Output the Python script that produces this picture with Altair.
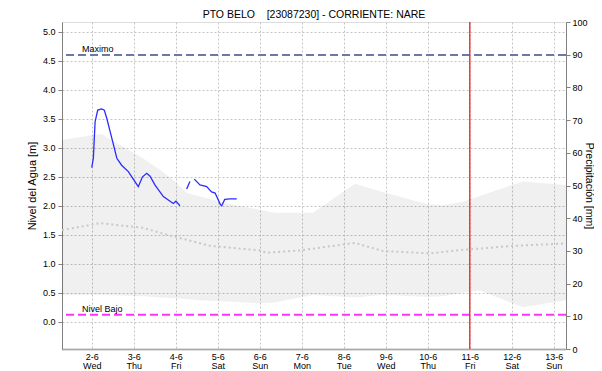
import json
import altair as alt
import pandas as pd

TITLE = ["PTO BELO\u00a0\u00a0\u00a0\u00a0[23087230] - CORRIENTE: NARE"]

# observed water level (m), three separate segments
obs1_time = ["2021-06-02T00:00", "2021-06-02T00:55", "2021-06-02T01:55", "2021-06-02T03:25",
             "2021-06-02T05:40", "2021-06-02T07:10", "2021-06-02T08:35", "2021-06-02T11:25",
             "2021-06-02T14:20", "2021-06-02T17:05", "2021-06-02T20:55", "2021-06-03T02:35",
             "2021-06-03T05:00", "2021-06-03T07:25", "2021-06-03T09:20", "2021-06-03T12:05",
             "2021-06-03T16:55", "2021-06-03T22:35", "2021-06-04T00:05", "2021-06-04T02:25"]
obs1_level = [2.66, 2.82, 3.45, 3.65, 3.67, 3.65, 3.51, 3.17, 2.82, 2.70, 2.59, 2.33,
              2.50, 2.56, 2.51, 2.36, 2.16, 2.04, 2.08, 2.00]
obs2_time = ["2021-06-04T06:15", "2021-06-04T08:05"]
obs2_level = [2.29, 2.42]
obs3_time = ["2021-06-04T10:35", "2021-06-04T13:50", "2021-06-04T17:40", "2021-06-04T20:30",
             "2021-06-04T22:30", "2021-06-05T01:30", "2021-06-05T02:15", "2021-06-05T04:00",
             "2021-06-05T07:00", "2021-06-05T10:50"]
obs3_level = [2.46, 2.36, 2.33, 2.24, 2.22, 2.02, 2.00, 2.11, 2.12, 2.12]

# historical band (m)
band_time = ["2021-06-01T07:00", "2021-06-02T05:40", "2021-06-03T05:15", "2021-06-03T15:00",
             "2021-06-03T22:25", "2021-06-04T06:25", "2021-06-04T13:50", "2021-06-05T05:15",
             "2021-06-06T00:05", "2021-06-06T08:40", "2021-06-07T06:20", "2021-06-08T06:20",
             "2021-06-08T22:20", "2021-06-09T23:30", "2021-06-10T08:35", "2021-06-10T20:00",
             "2021-06-11T05:45", "2021-06-12T06:15", "2021-06-13T07:00"]
band_high = [3.14, 3.24, 2.82, 2.62, 2.45, 2.22, 2.16, 2.04, 1.93, 1.88, 1.88, 2.38,
             2.24, 2.03, 2.01, 2.07, 2.17, 2.42, 2.36]
band_low = [0.46, 0.46, 0.44, 0.42, 0.41, 0.39, 0.37, 0.35, 0.32, 0.33, 0.46, 0.42,
            0.46, 0.43, 0.44, 0.50, 0.54, 0.25, 0.37]

# historical mean level (m)
mean_time = ["2021-06-01T07:00", "2021-06-02T04:45", "2021-06-03T05:15", "2021-06-03T19:00",
             "2021-06-04T19:35", "2021-06-06T00:05", "2021-06-06T04:05", "2021-06-06T22:55",
             "2021-06-08T06:20", "2021-06-08T22:20", "2021-06-10T01:10", "2021-06-10T20:00",
             "2021-06-12T01:45", "2021-06-13T07:00"]
mean_level = [1.58, 1.70, 1.62, 1.50, 1.31, 1.23, 1.19, 1.23, 1.36, 1.22, 1.18, 1.24, 1.31, 1.35]

threshold_names = ["Maximo", "Nivel Bajo"]
threshold_levels = [4.6, 0.12]
threshold_colors = ["#6b7aa5", "#ff33ff"]

now_time = ["2021-06-11T00:00"]

day_ticks = ["2021-06-%02dT00:00" % d for d in range(2, 14)]
day_labels = ["2-6", "3-6", "4-6", "5-6", "6-6", "7-6", "8-6", "9-6", "10-6", "11-6", "12-6", "13-6"]
weekday_labels = ["Wed", "Thu", "Fri", "Sat", "Sun", "Mon", "Tue", "Wed", "Thu", "Fri", "Sat", "Sun"]

level_ticks = [0.0, 0.5, 1.0, 1.5, 2.0, 2.5, 3.0, 3.5, 4.0, 4.5, 5.0]
precip_ticks = [0, 10, 20, 30, 40, 50, 60, 70, 80, 90, 100]
x_domain = ["2021-06-01T07:00", "2021-06-13T07:00"]
level_domain = [-0.47, 5.17]
precip_domain = [0, 100]


def ms(ts):
    return [int(pd.Timestamp(t, tz="UTC").value // 10**6) for t in ts]


FONT = "Liberation Sans"
t0 = ms(day_ticks)[0]
idx = f"round((datum.value - {t0}) / 86400000)"
label_expr = f"[{json.dumps(day_labels)}[{idx}], {json.dumps(weekday_labels)}[{idx}]]"

x_scale = alt.Scale(type="utc", domain=ms(x_domain), nice=False)
x_axis = alt.Axis(values=ms(day_ticks), labelExpr=label_expr, title=None, grid=True,
                  gridDash=[2, 2], gridColor="#c4c4c4", labelFont=FONT, labelFontSize=9,
                  labelColor="#000", tickSize=0, domainColor="#777", domainWidth=2,
                  domainDash=[1, 1], labelPadding=3, labelLineHeight=9.5)
y_scale = alt.Scale(domain=level_domain, nice=False, zero=False)
y_axis = alt.Axis(values=level_ticks, format=".1f", title="Nivel del Agua [m]", grid=True,
                  gridDash=[2, 2], gridColor="#c4c4c4", labelFont=FONT, labelFontSize=9,
                  labelColor="#000", tickSize=4, tickColor="#808080", domainColor="#808080",
                  titleFont=FONT, titleFontSize=11, titleFontWeight="normal", titleColor="#000",
                  titlePadding=5, labelPadding=3)

def X(f):
    return alt.X(f, type="temporal", scale=x_scale, axis=x_axis)

def Y(f):
    return alt.Y(f, type="quantitative", scale=y_scale, axis=y_axis)

obs = pd.DataFrame({
    "t": ms(obs1_time) + ms(obs2_time) + ms(obs3_time),
    "v": obs1_level + obs2_level + obs3_level,
    "seg": [1] * len(obs1_time) + [2] * len(obs2_time) + [3] * len(obs3_time),
})
band = pd.DataFrame({"t": ms(band_time), "hi": band_high, "lo": band_low})
mean = pd.DataFrame({"t": ms(mean_time), "v": mean_level})
thr = pd.DataFrame({"name": threshold_names, "v": threshold_levels, "c": threshold_colors})
now = pd.DataFrame({"t": ms(now_time)})
precip = pd.DataFrame({"p": precip_domain})
title_df = pd.DataFrame({"title": TITLE})

band_layer = alt.Chart(band).mark_area(color="#000000", opacity=0.059).encode(
    x=X("t"), y=Y("hi"), y2="lo")
mean_layer = alt.Chart(mean).mark_line(color="#c8c8c8", strokeWidth=2, strokeDash=[2, 3]).encode(
    x=X("t"), y=Y("v"))
obs_layer = alt.Chart(obs).mark_line(color="#2b2bff", strokeWidth=1.3).encode(
    x=X("t"), y=Y("v"), detail="seg:N")
thr_layer = alt.Chart(thr).mark_rule(strokeWidth=2, strokeDash=[8, 4]).encode(
    y=Y("v"), color=alt.Color("c:N", scale=None))
thr_text = alt.Chart(thr).mark_text(align="left", baseline="alphabetic", dy=-3, font=FONT,
                                    fontSize=9, color="#000").encode(
    y=Y("v"), x=alt.value(20), text="name:N")
now_layer = alt.Chart(now).mark_rule(color="#ff2020", strokeWidth=1.3).encode(x=X("t"))
title_layer = alt.Chart(title_df).mark_text(align="center", baseline="alphabetic", font=FONT,
                                            fontSize=10.5, color="#000").encode(
    x=alt.value(252), y=alt.value(-4.5), text="title:N")

level = alt.layer(band_layer, mean_layer, obs_layer, thr_layer, thr_text, now_layer, title_layer)

precip_layer = alt.Chart(precip).mark_point(opacity=0).encode(
    y=alt.Y("p:Q", scale=alt.Scale(domain=precip_domain, nice=False),
            axis=alt.Axis(orient="right", values=precip_ticks, title="Precipitación [mm]",
                          grid=False, labelFont=FONT, labelFontSize=9, labelColor="#000",
                          tickSize=4, tickColor="#808080", domainColor="#808080",
                          titleFont=FONT, titleFontSize=10.5, titleFontWeight="normal",
                          titleColor="#000", titlePadding=-4, titleAngle=90, labelPadding=2)))

chart = alt.layer(level, precip_layer).resolve_scale(y="independent").properties(
    width=504, height=327,
    padding={"left": 54, "top": 14, "right": 28, "bottom": 22},
    autosize="none",
).configure_view(stroke=None).configure(background="white")

chart.save("out.html", embed_options={"renderer": "svg", "actions": False})
